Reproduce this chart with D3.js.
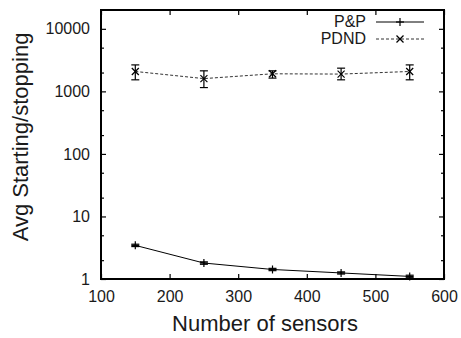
<!DOCTYPE html>
<html><head><meta charset="utf-8">
<script src="https://cdn.jsdelivr.net/npm/d3@7"></script>
<style>body{margin:0;background:#fff}svg{display:block}text{font-family:"Liberation Sans",Arial,sans-serif}</style>
</head><body><svg id="c" width="461" height="338"></svg>
<script>
const sensors = [150, 250, 350, 450, 550];
const ppMean = [3.45, 1.8, 1.42, 1.25, 1.1];
const ppLow = [3.3, 1.72, 1.36, 1.2, 1.05];
const ppHigh = [3.6, 1.88, 1.48, 1.3, 1.15];
const pdndMean = [2080, 1600, 1910, 1890, 2080];
const pdndLow = [1530, 1150, 1630, 1530, 1530];
const pdndHigh = [2650, 2130, 2130, 2350, 2650];
const xTicks = [100, 200, 300, 400, 500, 600];
const yTicks = [1, 10, 100, 1000, 10000];
const yMinor = [2, 5, 20, 50, 200, 500, 2000, 5000];
const seriesNames = ["P&P", "PDND"];

const svg = d3.select("#c");
const L = 101, R = 444, T = 10, B = 279;
const x = d3.scaleLinear().domain([100, 600]).range([L, R]);
const y = d3.scaleLog().domain([1, 20000]).range([B, T]);

const g = svg.append("g");
const bottomAxis = d3.axisBottom(x).tickValues(xTicks).tickSize(-5).tickFormat(d3.format("d")).tickPadding(12);
const topAxis = d3.axisTop(x).tickValues(xTicks).tickSize(-5).tickFormat("");
const leftAxis = d3.axisLeft(y).tickValues(yTicks).tickSize(-5).tickFormat(d3.format("d")).tickPadding(11);
const rightAxis = d3.axisRight(y).tickValues(yTicks).tickSize(-5).tickFormat("");
function style(sel){sel.select(".domain").remove();sel.selectAll("line").attr("stroke","#000").attr("stroke-width",1.2);sel.selectAll("text").attr("font-size",16).attr("fill","#1a1a1a").attr("font-family","Liberation Sans, Arial, sans-serif");}
g.append("g").attr("transform",`translate(0,${B})`).call(bottomAxis).call(style);
g.append("g").attr("transform",`translate(0,${T})`).call(topAxis).call(style);
g.append("g").attr("transform",`translate(${L},0)`).call(leftAxis).call(style);
g.append("g").attr("transform",`translate(${R},0)`).call(rightAxis).call(style);
const minorL = d3.axisLeft(y).tickValues(yMinor).tickSize(-3).tickFormat("");
const minorR = d3.axisRight(y).tickValues(yMinor).tickSize(-3).tickFormat("");
g.append("g").attr("transform",`translate(${L},0)`).call(minorL).call(style);
g.append("g").attr("transform",`translate(${R},0)`).call(minorR).call(style);

svg.append("rect").attr("x",L).attr("y",T).attr("width",R-L).attr("height",B-T)
  .attr("fill","none").attr("stroke","#000").attr("stroke-width",2);

const ppData = sensors.map((s,i)=>({x:s,m:ppMean[i],lo:ppLow[i],hi:ppHigh[i]}));
const pdData = sensors.map((s,i)=>({x:s,m:pdndMean[i],lo:pdndLow[i],hi:pdndHigh[i]}));
const line = d3.line().x(d=>x(d.x)).y(d=>y(d.m));
svg.append("path").datum(ppData).attr("d",line).attr("fill","none").attr("stroke","#000").attr("stroke-width",1);
svg.append("path").datum(pdData).attr("d",line).attr("fill","none").attr("stroke","#333").attr("stroke-width",1).attr("stroke-dasharray","3,2");

function errbars(data){
  const eg = svg.append("g").attr("stroke","#000").attr("stroke-width",1.2);
  data.forEach(d=>{
    const cx=x(d.x);
    eg.append("line").attr("x1",cx).attr("x2",cx).attr("y1",y(d.lo)).attr("y2",y(d.hi));
    eg.append("line").attr("x1",cx-4).attr("x2",cx+4).attr("y1",y(d.lo)).attr("y2",y(d.lo));
    eg.append("line").attr("x1",cx-4).attr("x2",cx+4).attr("y1",y(d.hi)).attr("y2",y(d.hi));
  });
}
errbars(ppData); errbars(pdData);

function plus(gg,cx,cy,s){gg.append("line").attr("x1",cx-s).attr("x2",cx+s).attr("y1",cy).attr("y2",cy);gg.append("line").attr("x1",cx).attr("x2",cx).attr("y1",cy-s).attr("y2",cy+s);}
function cross(gg,cx,cy,s){gg.append("line").attr("x1",cx-s).attr("x2",cx+s).attr("y1",cy-s).attr("y2",cy+s);gg.append("line").attr("x1",cx-s).attr("x2",cx+s).attr("y1",cy+s).attr("y2",cy-s);}
const mg = svg.append("g").attr("stroke","#000").attr("stroke-width",1.2);
ppData.forEach(d=>plus(mg,x(d.x),y(d.m),4));
pdData.forEach(d=>cross(mg,x(d.x),y(d.m),3.5));

const lg = svg.append("g");
lg.append("text").attr("x",366).attr("y",27).attr("text-anchor","end").attr("font-size",16).attr("fill","#1a1a1a").text(seriesNames[0]);
lg.append("text").attr("x",366).attr("y",44).attr("text-anchor","end").attr("font-size",16).attr("fill","#1a1a1a").text(seriesNames[1]);
lg.append("line").attr("x1",376).attr("x2",424).attr("y1",22).attr("y2",22).attr("stroke","#000").attr("stroke-width",1);
plus(lg.append("g").attr("stroke","#000").attr("stroke-width",1.2),400,22,4);
lg.append("line").attr("x1",376).attr("x2",424).attr("y1",39).attr("y2",39).attr("stroke","#333").attr("stroke-width",1).attr("stroke-dasharray","3,2");
cross(lg.append("g").attr("stroke","#000").attr("stroke-width",1.2),400,39,3.5);

svg.append("text").attr("x",265).attr("y",331).attr("text-anchor","middle").attr("font-size",22).attr("fill","#1a1a1a").text("Number of sensors");
svg.append("text").attr("transform",`translate(28,137) rotate(-90)`).attr("text-anchor","middle").attr("font-size",22).attr("fill","#1a1a1a").text("Avg Starting/stopping");
</script></body></html>
